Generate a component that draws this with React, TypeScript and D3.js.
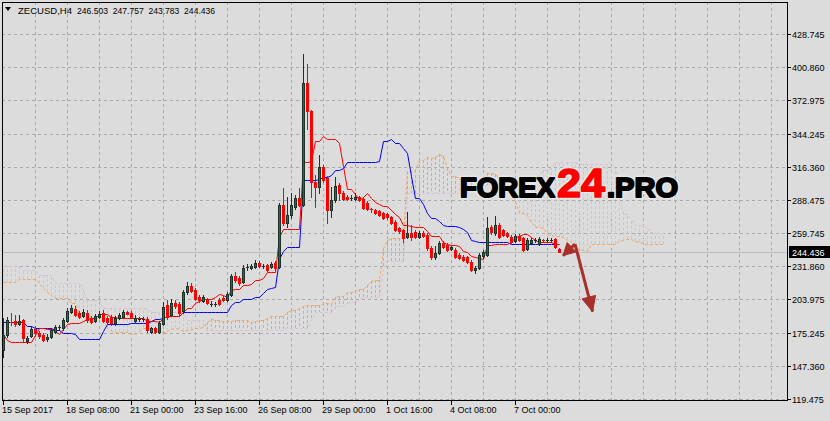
import React from 'react';
import * as d3 from 'd3';

// ---------- DATA ----------
const headerSymbol = 'ZECUSD,H4';
const headerValues = ['246.503', '247.757', '243.783', '244.436'];
const lastPrice = 244.436;

const opens = [
  161.0, 173.7, 184.7, 185.6, 183.0, 186.4, 168.6, 172.9, 178.8, 175.4,
  173.7, 170.3, 172.0, 176.3, 180.4, 179.6, 185.6, 193.2, 195.7, 192.4,
  189.8, 192.4, 188.1, 185.6, 189.0, 192.4, 188.1, 189.0, 183.9, 188.1,
  189.0, 193.2, 192.4, 185.6, 187.2, 187.2, 187.3, 176.3, 179.6, 176.3,
  183.0, 199.1, 190.7, 200.8, 200.0, 194.1, 210.2, 215.2, 211.8, 205.9,
  202.5, 203.4, 200.0, 200.0, 203.4, 205.1, 203.4, 207.6, 223.7, 222.0,
  218.6, 230.5, 230.5, 231.3, 234.7, 232.2, 233.0, 231.3, 234.7, 231.3,
  283.9, 268.6, 275.4, 282.2, 289.8, 283.9, 387.2, 363.5, 303.3, 299.1,
  316.1, 306.7, 279.6, 288.1, 300.8, 294.0, 290.6, 289.8, 288.9, 290.6,
  288.9, 285.6, 280.1, 279.6, 278.8, 277.1, 276.2, 273.7, 269.5, 264.4,
  262.7, 256.8, 260.1, 261.0, 256.8, 260.1, 258.4, 247.4, 239.8, 243.2,
  251.7, 250.0, 246.6, 245.7, 241.5, 239.8, 239.8, 235.6, 228.8, 230.5,
  240.7, 241.5, 265.2, 260.1, 266.9, 262.7, 260.1, 256.8, 253.4, 257.6,
  255.9, 246.6, 251.7, 253.9, 250.8, 254.2, 254.0, 254.0, 255.1, 246.503,
];
const highs = [
  188.1, 189.0, 192.4, 190.7, 190.7, 187.3, 172.9, 181.3, 181.3, 177.1,
  175.4, 174.6, 179.6, 182.2, 182.2, 188.1, 196.6, 199.1, 198.3, 194.1,
  195.7, 194.9, 189.8, 191.5, 194.1, 194.9, 189.8, 190.7, 189.8, 192.4,
  194.9, 194.1, 194.1, 190.7, 189.0, 189.0, 189.0, 180.5, 180.5, 185.6,
  201.7, 203.4, 204.2, 203.4, 201.7, 211.8, 218.6, 217.8, 213.6, 207.6,
  207.6, 205.1, 202.5, 201.7, 205.1, 206.8, 210.2, 225.4, 227.1, 223.7,
  233.0, 233.9, 233.9, 237.3, 236.4, 233.9, 233.9, 235.6, 236.4, 285.6,
  298.3, 290.6, 294.0, 292.3, 298.3, 411.8, 403.3, 364.4, 309.3, 326.2,
  317.8, 308.4, 299.1, 307.6, 302.5, 295.7, 292.3, 292.3, 294.0, 291.5,
  290.6, 287.3, 281.3, 280.5, 279.6, 277.9, 277.1, 274.5, 271.2, 265.2,
  263.5, 277.9, 266.9, 262.7, 261.8, 261.8, 260.1, 249.1, 249.1, 253.4,
  253.4, 251.7, 249.1, 247.4, 243.2, 241.5, 240.7, 237.3, 232.2, 243.2,
  245.7, 273.7, 266.9, 274.5, 268.6, 263.5, 261.0, 258.4, 259.3, 259.3,
  256.8, 255.9, 255.9, 255.9, 256.8, 255.1, 255.9, 255.9, 255.9, 247.757,
];
const lows = [
  155.1, 172.0, 182.2, 181.3, 182.2, 167.8, 166.9, 172.0, 172.9, 171.2,
  168.6, 168.6, 171.2, 175.4, 177.9, 177.9, 184.7, 192.4, 189.8, 188.1,
  189.0, 184.7, 183.9, 184.7, 188.1, 184.7, 183.9, 182.2, 182.2, 187.3,
  188.1, 191.5, 188.1, 184.7, 185.6, 185.6, 176.3, 175.4, 175.4, 175.4,
  182.2, 187.3, 189.8, 196.6, 190.7, 192.4, 208.5, 210.2, 203.4, 201.7,
  201.7, 200.0, 198.3, 198.3, 199.1, 202.5, 202.5, 206.8, 218.6, 216.1,
  217.8, 228.8, 229.6, 230.5, 231.3, 230.5, 227.9, 230.5, 228.8, 230.5,
  266.9, 265.2, 272.8, 280.5, 283.0, 283.0, 348.3, 290.6, 282.2, 294.0,
  303.3, 268.6, 273.7, 286.4, 288.1, 288.1, 288.1, 288.1, 288.1, 287.3,
  280.5, 279.6, 277.9, 276.2, 274.5, 272.0, 272.0, 267.8, 261.8, 260.1,
  252.5, 255.9, 254.2, 255.9, 255.9, 256.8, 245.7, 238.1, 238.1, 242.4,
  247.4, 244.9, 245.7, 239.0, 238.1, 236.4, 234.7, 227.9, 226.2, 229.6,
  239.0, 240.7, 259.3, 258.4, 255.9, 257.6, 256.8, 251.7, 252.5, 253.4,
  244.9, 245.7, 250.8, 252.5, 250.0, 252.5, 252.5, 252.5, 247.4, 243.783,
];
const closes = [
  173.7, 186.4, 183.9, 183.0, 185.6, 171.2, 171.2, 178.8, 175.4, 172.9,
  169.5, 172.0, 177.9, 180.5, 180.7, 186.4, 194.1, 196.6, 190.7, 189.0,
  193.2, 186.4, 184.7, 189.8, 191.5, 185.6, 184.7, 183.9, 188.1, 190.7,
  193.2, 191.9, 189.0, 188.1, 187.5, 187.4, 177.9, 179.6, 176.3, 183.9,
  197.4, 189.0, 200.8, 198.3, 192.4, 210.2, 215.2, 211.0, 204.2, 203.4,
  205.9, 200.8, 200.3, 200.3, 200.0, 203.4, 208.5, 223.7, 220.3, 217.8,
  230.5, 230.9, 232.2, 234.7, 232.2, 232.5, 228.8, 233.9, 230.5, 283.9,
  268.6, 275.4, 283.9, 289.8, 283.9, 387.2, 363.5, 303.3, 299.1, 316.1,
  305.0, 279.6, 288.1, 300.0, 294.0, 288.9, 288.9, 290.1, 290.6, 288.1,
  281.3, 280.5, 279.2, 277.1, 275.4, 272.8, 273.7, 268.6, 262.7, 261.8,
  255.9, 260.1, 256.8, 256.8, 260.1, 257.6, 247.4, 239.8, 243.2, 251.7,
  248.3, 245.7, 248.3, 239.8, 239.0, 237.3, 235.6, 228.8, 230.5, 241.5,
  244.0, 264.4, 261.0, 266.9, 256.8, 258.4, 257.6, 252.5, 257.6, 254.2,
  245.7, 254.2, 254.2, 254.4, 255.1, 253.4, 254.4, 254.4, 248.3, 244.436,
];

// Ichimoku lines (one value per bar)
const tenkan = [
  174.6, 169.5, 167.8, 167.8, 167.8, 167.8, 167.8, 167.8, 173.7, 179.6,
  179.6, 178.8, 178.8, 177.1, 174.6, 178.4, 182.6, 183.9, 183.9, 183.9,
  185.2, 187.3, 188.5, 188.5, 191.5, 191.5, 191.1, 189.0, 189.0, 188.5,
  188.5, 188.5, 188.5, 188.5, 188.5, 188.5, 185.6, 185.2, 185.2, 184.7,
  188.5, 189.4, 189.8, 189.8, 189.8, 193.6, 197.0, 197.0, 200.4, 202.9,
  204.2, 204.6, 204.6, 205.5, 208.5, 208.0, 205.9, 211.8, 212.7, 212.7,
  215.7, 216.1, 216.5, 219.9, 219.9, 222.0, 226.7, 226.7, 227.5, 256.8,
  263.1, 263.1, 263.1, 263.1, 263.1, 320.3, 320.3, 321.1, 338.5, 338.5,
  342.3, 340.2, 340.2, 340.2, 336.0, 316.5, 297.4, 297.4, 293.2, 288.5,
  290.6, 293.6, 290.2, 286.0, 284.3, 283.0, 283.0, 279.6, 276.2, 273.7,
  266.9, 266.5, 266.1, 265.2, 265.2, 265.2, 261.8, 258.0, 258.0, 258.0,
  252.5, 250.4, 250.0, 250.0, 249.1, 244.9, 244.0, 240.7, 239.8, 239.0,
  237.7, 250.0, 250.0, 250.4, 250.4, 250.4, 250.4, 252.1, 256.8, 257.6,
  259.7, 259.7, 256.8, 254.2, 252.9, 252.1, 252.1, 252.1, 250.8, 250.4,
];
const kijun = [
  184.3, 184.3, 184.3, 184.3, 184.3, 184.3, 181.3, 181.3, 179.6, 179.6,
  179.6, 179.6, 179.6, 177.9, 177.9, 175.4, 175.4, 175.4, 174.6, 170.3,
  170.3, 170.3, 170.3, 170.3, 170.3, 177.1, 183.0, 183.0, 183.0, 183.0,
  183.0, 183.0, 183.9, 183.9, 183.9, 183.9, 183.9, 185.2, 187.3, 187.3,
  188.5, 189.4, 189.8, 189.8, 189.8, 193.2, 193.2, 193.2, 193.2, 193.2,
  193.2, 193.2, 193.2, 193.2, 193.2, 193.2, 193.2, 199.1, 201.3, 201.3,
  204.2, 204.6, 204.6, 206.3, 206.3, 209.7, 212.3, 213.6, 214.0, 238.1,
  245.3, 248.3, 248.3, 248.3, 248.3, 305.0, 305.0, 305.0, 305.0, 305.5,
  307.2, 307.2, 309.3, 313.9, 313.9, 314.8, 319.9, 319.9, 319.9, 319.9,
  319.9, 319.9, 320.3, 320.3, 321.1, 338.5, 338.5, 339.8, 336.8, 336.0,
  332.2, 327.9, 308.4, 289.4, 289.4, 285.1, 277.1, 272.8, 272.8, 270.3,
  266.9, 266.1, 266.1, 266.1, 264.8, 263.5, 261.0, 254.6, 253.4, 252.9,
  252.1, 252.1, 252.1, 252.1, 252.1, 252.1, 252.1, 250.4, 250.4, 250.4,
  250.4, 250.4, 250.4, 250.4, 250.4, 250.4, 250.4, 250.4, 250.4, 250.4,
];
// Senkou spans (already shifted 26 bars forward: 166 values)
const senkouA = [
  218.6, 218.6, 218.6, 218.6, 221.2, 221.2, 221.2, 221.2, 221.2, 217.8,
  213.6, 210.2, 207.6, 205.1, 205.1, 205.1, 205.1, 200.8, 200.8, 192.4,
  192.4, 192.4, 189.0, 189.0, 189.0, 189.0, 179.4, 176.9, 176.0, 176.0,
  176.0, 176.0, 174.6, 174.6, 176.7, 179.6, 179.6, 179.2, 179.2, 177.5,
  176.3, 176.9, 179.0, 179.6, 179.2, 177.1, 177.7, 178.8, 179.4, 179.4,
  180.9, 184.3, 187.1, 186.0, 186.0, 185.8, 185.8, 185.8, 186.2, 186.2,
  186.2, 186.2, 184.7, 185.2, 186.2, 186.0, 188.5, 189.4, 189.8, 189.8,
  189.8, 193.0, 195.1, 195.1, 196.8, 198.1, 198.7, 198.9, 198.9, 199.3,
  200.8, 200.6, 199.6, 205.5, 207.0, 207.0, 209.9, 210.4, 210.6, 213.1,
  213.1, 215.9, 219.5, 220.1, 220.7, 247.4, 254.2, 255.7, 255.7, 255.7,
  255.7, 312.7, 312.7, 313.1, 321.8, 322.0, 324.7, 323.7, 324.7, 327.1,
  325.0, 315.6, 308.6, 308.6, 306.5, 304.2, 305.3, 306.7, 305.3, 303.1,
  302.7, 310.8, 310.8, 309.7, 306.5, 304.8, 299.5, 297.2, 287.3, 277.3,
  277.3, 275.2, 269.5, 265.4, 265.4, 264.2, 259.7, 258.2, 258.0, 258.0,
  257.0, 254.2, 252.5, 247.6, 246.6, 245.9, 244.9, 251.0, 251.0, 251.2,
  251.2, 251.2, 251.2, 251.2, 253.6, 254.0, 255.1, 255.1, 253.6, 252.3,
  251.7, 251.2, 251.2, 251.2, 250.6, 250.4,
];
const senkouB = [
  232.2, 232.2, 232.2, 232.2, 232.2, 228.8, 228.8, 228.8, 228.8, 224.6,
  224.6, 224.6, 224.6, 217.8, 217.8, 217.8, 217.8, 217.8, 217.8, 217.8,
  211.8, 203.4, 203.4, 203.4, 203.4, 196.6, 196.6, 196.6, 196.6, 196.6,
  196.6, 196.6, 196.6, 196.6, 196.6, 196.6, 196.6, 193.2, 193.2, 193.2,
  193.2, 193.2, 193.2, 193.2, 193.2, 193.2, 186.4, 186.4, 186.4, 186.4,
  186.4, 177.9, 177.9, 177.9, 177.9, 177.9, 177.9, 177.9, 177.9, 177.9,
  177.9, 177.9, 177.9, 177.9, 177.9, 177.9, 177.9, 177.9, 177.9, 177.9,
  177.9, 179.6, 179.6, 179.6, 179.6, 179.6, 179.6, 186.8, 192.8, 192.8,
  192.8, 192.8, 192.8, 196.2, 197.9, 197.9, 200.8, 201.3, 201.3, 204.2,
  206.3, 206.3, 206.3, 206.3, 206.3, 230.5, 236.8, 236.8, 236.8, 236.8,
  236.8, 293.6, 293.6, 293.6, 293.6, 293.6, 293.6, 293.6, 293.6, 293.6,
  293.6, 293.6, 293.6, 293.6, 293.6, 293.6, 293.6, 297.0, 299.5, 300.8,
  301.2, 301.2, 302.1, 305.0, 305.0, 305.0, 305.0, 305.0, 305.0, 305.0,
  305.0, 305.5, 307.2, 307.2, 309.3, 313.9, 313.9, 314.8, 319.9, 319.9,
  319.9, 319.9, 319.9, 319.9, 319.0, 319.0, 319.0, 319.0, 319.0, 319.0,
  319.0, 319.0, 319.0, 314.8, 295.3, 276.2, 276.2, 272.0, 267.3, 266.9,
  266.9, 264.4, 261.0, 260.1, 260.1, 260.1,
];

const yTickValues = [428.745, 400.86, 372.975, 344.245, 316.36, 288.475, 259.745, 231.86, 203.975, 175.245, 147.36, 119.475];
const xTickBars = [0, 16, 32, 48, 64, 80, 96, 112, 128];
const xTickLabels = ['15 Sep 2017', '18 Sep 08:00', '21 Sep 00:00', '23 Sep 16:00', '26 Sep 08:00', '29 Sep 00:00', '1 Oct 16:00', '4 Oct 08:00', '7 Oct 00:00'];

// annotation arrows (bar index, price)
const arrowFrom = { bar: 143, price: 250.8 };
const arrowShortTo = { bar: 140, price: 241.0 };
const arrowLongTo = { bar: 147.4, price: 193.5 };

// ---------- STYLE ----------
const BG = '#DCDCDC';
const GRID = '#A9A9A9';
const BULL_FILL = '#2F6450';
const BULL_EDGE = '#1B3329';
const BEAR = '#FF0000';
const SANDY = '#F4A460';
const THISTLE = '#D8BFD8';
const ARROW = '#A8302A';
const FONT = '"Liberation Sans", Arial, sans-serif';

const PL = 2, PR = 787, PT = 2, PB = 400;

function arrowHead(x1: number, y1: number, x2: number, y2: number, len: number, half: number) {
  const dx = x2 - x1, dy = y2 - y1;
  const d = Math.hypot(dx, dy);
  const ux = dx / d, uy = dy / d;
  const bx = x2 - ux * len, by = y2 - uy * len;
  const px = -uy, py = ux;
  return `M${x2},${y2}L${bx + px * half},${by + py * half}L${bx - px * half},${by - py * half}Z`;
}

export default function App() {
  const x = d3.scaleLinear().domain([0, 196]).range([3, 787]);
  const y = d3.scaleLinear().domain([119.475, 428.745]).range([399, 34]);
  const ry = (v: number) => Math.round(y(v));

  const lineGen = d3.line<number>()
    .x((_, i) => x(i) + 0.5)
    .y((d) => ry(d) + 0.5);

  const gridXs: number[] = [];
  for (let b = 8; x(b) < PR; b += 8) gridXs.push(Math.round(x(b)) + 0.5);

  const ax = x(arrowFrom.bar), ay = y(arrowFrom.price);
  const sx = x(arrowShortTo.bar), sy = y(arrowShortTo.price);
  const lx = x(arrowLongTo.bar), ly = y(arrowLongTo.price);

  return (
    <svg width={830} height={421} style={{ position: 'absolute', left: 0, top: 0, display: 'block' }}
      xmlns="http://www.w3.org/2000/svg">
      <defs>
        <clipPath id="plot"><rect x={PL + 1} y={PT + 1} width={PR - PL - 1} height={PB - PT - 1} /></clipPath>
      </defs>
      <rect x={0} y={0} width={830} height={421} fill={BG} />

      {/* grid */}
      <g stroke={GRID} strokeWidth={1} strokeDasharray="3,3" shapeRendering="crispEdges">
        {yTickValues.map((v) => (
          <line key={'h' + v} x1={PL} x2={PR} y1={ry(v) + 0.5} y2={ry(v) + 0.5} />
        ))}
        {gridXs.map((gx) => (
          <line key={'v' + gx} x1={gx} x2={gx} y1={PT} y2={PB} />
        ))}
      </g>

      <g clipPath="url(#plot)">
        {/* cloud hatch */}
        <g strokeWidth={1} strokeDasharray="3,2" shapeRendering="crispEdges">
          {senkouA.map((a, j) => {
            const b = senkouB[j];
            return (
              <line key={'c' + j} x1={x(j) + 0.5} x2={x(j) + 0.5} y1={ry(a)} y2={ry(b)}
                stroke={a >= b ? SANDY : THISTLE} />
            );
          })}
        </g>
        <path d={lineGen(senkouB) || ''} fill="none" stroke={THISTLE} strokeWidth={1} strokeDasharray="3,2" />
        <path d={lineGen(senkouA) || ''} fill="none" stroke={SANDY} strokeWidth={1} strokeDasharray="3,2" />

        {/* last price line */}
        <line x1={PL} x2={PR} y1={ry(lastPrice) + 0.5} y2={ry(lastPrice) + 0.5} stroke="#BDBDBD" strokeWidth={1} />

        {/* tenkan / kijun */}
        <path d={lineGen(kijun) || ''} fill="none" stroke="#0000FF" strokeWidth={1} />
        <path d={lineGen(tenkan) || ''} fill="none" stroke="#FF0000" strokeWidth={1} />

        {/* candles */}
        <g shapeRendering="crispEdges">
          {opens.map((o, i) => {
            const c = closes[i];
            const bull = c >= o;
            const cx = Math.round(x(i));
            const yTop = ry(Math.max(o, c));
            const yBot = ry(Math.min(o, c));
            const yH = ry(highs[i]);
            const yL = ry(lows[i]);
            const edge = bull ? BULL_EDGE : BEAR;
            return (
              <g key={'k' + i}>
                <line x1={cx + 0.5} x2={cx + 0.5} y1={yH} y2={yL + 1} stroke={edge} strokeWidth={1} />
                {yBot - yTop < 2 ? (
                  <line x1={cx - 1} x2={cx + 2} y1={yTop + 0.5} y2={yTop + 0.5} stroke={edge} strokeWidth={1} />
                ) : (
                  <rect x={cx - 0.5} y={yTop + 0.5} width={2} height={yBot - yTop}
                    fill={bull ? BULL_FILL : BEAR} stroke={edge} strokeWidth={1} />
                )}
              </g>
            );
          })}
        </g>
      </g>

      {/* watermark */}
      <g fontFamily={FONT} fontWeight="bold">
        <g stroke="#F2F2F2" strokeWidth={5} strokeOpacity={0.5} fill="none" strokeLinejoin="round">
          <text x={460} y={197} fontSize={28} textLength={95} lengthAdjust="spacingAndGlyphs">FOREX</text>
          <text x={557} y={197} fontSize={41} textLength={48} lengthAdjust="spacingAndGlyphs">24</text>
          <text x={607} y={197} fontSize={28} textLength={71} lengthAdjust="spacingAndGlyphs">.PRO</text>
        </g>
        <text x={460} y={197} fontSize={28} textLength={95} lengthAdjust="spacingAndGlyphs" fill="#000" stroke="#000" strokeWidth={2} strokeLinejoin="round">FOREX</text>
        <text x={557} y={197} fontSize={41} textLength={48} lengthAdjust="spacingAndGlyphs" fill="#FF0000" stroke="#FF0000" strokeWidth={1.6} strokeLinejoin="round">24</text>
        <text x={607} y={197} fontSize={28} textLength={71} lengthAdjust="spacingAndGlyphs" fill="#000" stroke="#000" strokeWidth={2} strokeLinejoin="round">.PRO</text>
      </g>

      {/* arrows */}
      <g fill={ARROW} stroke={ARROW}>
        <line x1={ax} y1={ay} x2={lx} y2={ly} strokeWidth={3} />
        <path d={arrowHead(ax, ay, lx, ly, 15, 7)} strokeWidth={1} />
        <line x1={ax} y1={ay} x2={sx} y2={sy} strokeWidth={3} />
        <path d={arrowHead(ax, ay, sx, sy, 12, 6.5)} strokeWidth={1} />
      </g>

      {/* frame */}
      <rect x={PL + 0.5} y={PT + 0.5} width={PR - PL} height={PB - PT} fill="none" stroke="#000" strokeWidth={1} shapeRendering="crispEdges" />

      {/* y axis */}
      <g fontFamily={FONT} fontSize={9} fill="#000">
        {yTickValues.map((v, i) => (
          <g key={'yt' + i}>
            <line x1={PR} x2={PR + 4} y1={ry(v) + 0.5} y2={ry(v) + 0.5} stroke="#000" shapeRendering="crispEdges" />
            <text x={792} y={ry(v) + 4}>{v.toFixed(3)}</text>
          </g>
        ))}
        <rect x={789} y={ry(lastPrice) - 6} width={41} height={12} fill="#000" />
        <text x={792} y={ry(lastPrice) + 4} fill="#FFF">{lastPrice.toFixed(3)}</text>
      </g>

      {/* x axis */}
      <g fontFamily={FONT} fontSize={9} fill="#000">
        {xTickBars.map((b, i) => (
          <g key={'xt' + i}>
            <line x1={Math.round(x(b)) + 0.5} x2={Math.round(x(b)) + 0.5} y1={PB} y2={PB + 5} stroke="#000" shapeRendering="crispEdges" />
            <text x={Math.round(x(b)) - 1} y={413}>{xTickLabels[i]}</text>
          </g>
        ))}
      </g>

      {/* header */}
      <g fontFamily={FONT} fontSize={9.5} fill="#000">
        <path d="M5,7L11,7L8,11Z" fill="#000" />
        <text x={18} y={14} textLength={54} lengthAdjust="spacingAndGlyphs">{headerSymbol}</text>
        {headerValues.map((v, i) => (
          <text key={'hv' + i} x={77 + i * 35.7} y={14} textLength={31} lengthAdjust="spacingAndGlyphs">{v}</text>
        ))}
      </g>
    </svg>
  );
}
